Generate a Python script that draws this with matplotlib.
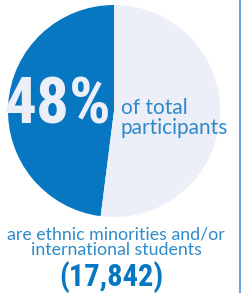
import matplotlib
matplotlib.use("Agg")
import matplotlib.pyplot as plt

# share of participants who are ethnic minorities and/or international students
share = [48, 52]
pct_label = "48%"
side_label = "of total\nparticipants"
bottom_label = "are ethnic minorities and/or\ninternational students"
count_label = "(17,842)"

blue = "#0877c1"
pale = "#eceef8"
text_blue = "#2f8ac9"

fig = plt.figure(figsize=(2.41, 2.93), dpi=100)
ax = fig.add_axes([0, 0, 1, 1])
ax.pie(share, colors=[blue, pale], startangle=90, counterclock=True,
       center=(114, 182), radius=106, wedgeprops=dict(linewidth=0))
ax.set_xlim(0, 241)
ax.set_ylim(0, 293)
ax.set_aspect("auto")
ax.axis("off")

# thin rule at the right edge
ax.axvline(240, color="#6aa6db", linewidth=1.5)

ax.text(58, 187, pct_label, family="Roboto Condensed", fontweight="bold",
        fontsize=47, color=pale, ha="center", va="center")
ax.text(121, 175, side_label, family="Lato", fontsize=15,
        color=text_blue, ha="left", va="center", linespacing=1.05)
ax.text(116, 51, bottom_label, family="Lato", fontsize=12.8,
        color=text_blue, ha="center", va="center", linespacing=1.0)
ax.text(111, 16, count_label, family="Roboto Condensed", fontweight="bold",
        fontsize=22, color=blue, ha="center", va="center")

fig.savefig("out.png")
